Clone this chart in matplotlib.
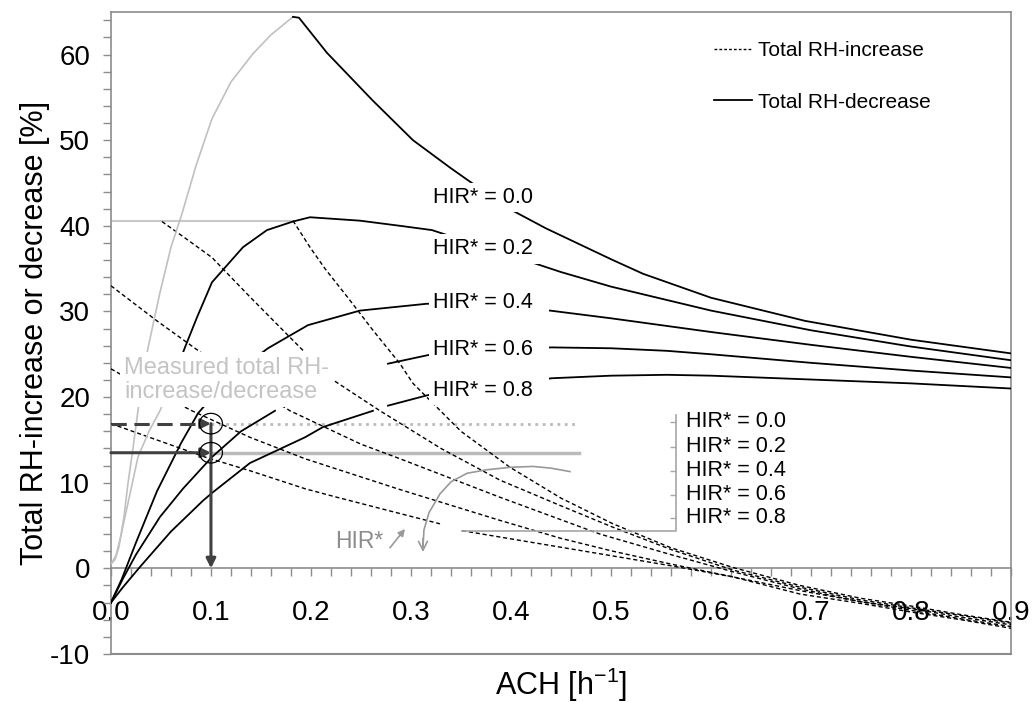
import matplotlib
matplotlib.use('Agg')
import matplotlib.pyplot as plt
from matplotlib.patches import Ellipse
from matplotlib.lines import Line2D

plt.rcParams['font.family'] = ['Liberation Sans', 'DejaVu Sans']
plt.rcParams['mathtext.default'] = 'regular'
plt.rcParams['axes.unicode_minus'] = False

nan = float('nan')

# --- total RH-decrease (solid) ---
dec00_gray_x = [0, 0.004, 0.008, 0.013, 0.017, 0.022, 0.027, 0.037, 0.049, 0.06, 0.071, 0.085, 0.101, 0.12, 0.142, 0.16, 0.182]
dec00_gray_y = [0.5, 1.0, 2.5, 6.0, 9.9, 14.0, 18.4, 25.7, 32.2, 37.5, 41.4, 47.0, 52.5, 56.8, 60.1, 62.3, 64.4]
dec00_x = [0.182, 0.188, 0.216, 0.262, 0.302, 0.339, 0.356, 0.398, 0.435, 0.5, 0.532, 0.6, 0.694, 0.8, 0.9]
dec00_y = [64.4, 64.3, 60.2, 54.6, 50.0, 46.8, 45.4, 42.0, 39.7, 36.1, 34.4, 31.6, 28.9, 26.7, 25.1]

dec02_gray_x = [0, 0.005, 0.01, 0.014, 0.02, 0.027, 0.038, 0.049, 0.06]
dec02_gray_y = [0.5, 1.5, 3.8, 6.0, 9.2, 13.0, 16.0, 18.4, 21.5]
dec02_x = [0.06, 0.074, 0.086, 0.101, 0.132, 0.156, 0.182, 0.199, 0.249, 0.289, 0.321, 0.36, 0.406, 0.45, 0.5, 0.6, 0.7, 0.8, 0.9]
dec02_y = [21.5, 25.8, 29.3, 33.4, 37.5, 39.5, 40.5, 41.0, 40.6, 40.0, 39.5, 38.0, 36.3, 34.6, 32.9, 30.1, 27.8, 25.9, 24.3]

dec04_x = [0, 0.011, 0.025, 0.046, 0.07, 0.087, 0.12, 0.157, 0.197, 0.249, 0.316, 0.38, 0.439, 0.5, 0.6, 0.7, 0.8, 0.9]
dec04_y = [-4.0, -1.2, 3.0, 9.0, 14.6, 18.1, 22.5, 25.7, 28.4, 30.1, 30.9, 30.7, 30.1, 29.2, 27.6, 26.1, 24.7, 23.4]

dec06_x = [0, 0.012, 0.025, 0.049, 0.072, 0.101, 0.13, 0.164, 0.2, 0.277, 0.317, 0.38, 0.441, 0.5, 0.556, 0.6, 0.7, 0.8, 0.9]
dec06_y = [-4.0, -1.2, 1.6, 6.0, 9.3, 13.0, 16.0, 18.4, nan, 23.9, 24.9, 25.6, 25.8, 25.7, 25.4, 25.0, 24.0, 23.1, 22.3]

dec08_x = [0, 0.012, 0.03, 0.06, 0.092, 0.101, 0.139, 0.194, 0.212, 0.262, 0.27, 0.277, 0.316, 0.38, 0.441, 0.5, 0.556, 0.6, 0.689, 0.8, 0.9]
dec08_y = [-4.0, -2.2, 0.3, 4.3, 7.9, 8.8, 12.3, 15.3, 16.5, 18.4, nan, 19.0, 20.2, 21.4, 22.2, 22.5, 22.6, 22.5, 22.1, 21.6, 21.0]

# --- total RH-increase (dashed) ---
inc00_x = [0.182, 0.199, 0.214, 0.237, 0.262, 0.289, 0.302, 0.35, 0.399, 0.45, 0.502, 0.56, 0.622, 0.689, 0.75, 0.8, 0.85, 0.9]
inc00_y = [40.6, 37.5, 35.0, 31.6, 27.8, 23.9, 21.6, 16.0, 11.8, 8.2, 5.2, 2.4, 0.1, -2.0, -3.5, -4.4, -5.4, -6.3]
inc02_x = [0.051, 0.075, 0.101, 0.139, 0.189, 0.222, 0.269, 0.33, 0.389, 0.45, 0.502, 0.56, 0.622, 0.689, 0.75, 0.8, 0.85, 0.9]
inc02_y = [40.5, 38.5, 36.3, 31.7, 25.8, 22.0, 18.4, 14.0, 10.3, 7.3, 4.8, 2.2, -0.2, -2.2, -3.7, -4.6, -5.5, -6.4]
inc04_x = [0, 0.046, 0.084, 0.13, 0.179, 0.25, 0.289, 0.389, 0.489, 0.56, 0.622, 0.689, 0.75, 0.8, 0.85, 0.9]
inc04_y = [33.0, 28.9, 25.7, 22.0, 18.4, 14.5, 12.8, 8.3, 4.0, 1.6, -0.4, -2.4, -3.9, -4.7, -5.7, -6.6]
inc06_x = [0, 0.009, 0.081, 0.139, 0.194, 0.289, 0.389, 0.45, 0.502, 0.56, 0.622, 0.689, 0.75, 0.8, 0.85, 0.9]
inc06_y = [23.3, 22.7, 18.4, 15.3, 12.8, 9.2, 5.6, 3.5, 2.0, 0.5, -1.0, -2.6, -3.9, -4.9, -5.9, -6.8]
inc08_x = [0, 0.094, 0.139, 0.194, 0.226, 0.289, 0.329, 0.34, 0.351, 0.489, 0.56, 0.622, 0.689, 0.75, 0.8, 0.85, 0.9]
inc08_y = [16.9, 13.0, 11.4, 9.3, 8.3, 6.4, 5.2, nan, 4.4, 1.7, 0.3, -1.0, -3.0, -4.1, -5.1, -6.0, -7.0]

hir_labels = ['HIR* = 0.0', 'HIR* = 0.2', 'HIR* = 0.4', 'HIR* = 0.6', 'HIR* = 0.8']
curve_label_y = [43.3, 37.3, 31.1, 25.5, 20.8]
bracket_tick_y = [17.1, 14.2, 11.4, 8.6, 5.9]

measured_inc = 16.9
measured_dec = 13.5
measured_ach = 0.1
measured_line_end = 0.468

# curved "HIR*" arrow path
hir_arrow_x = [0.459, 0.44, 0.422, 0.399, 0.375, 0.356, 0.34, 0.329, 0.318, 0.313, 0.312]
hir_arrow_y = [11.3, 11.7, 11.9, 11.8, 11.5, 11.1, 10.1, 8.7, 6.5, 4.5, 2.6]

spine_c = '#8c8c8c'
light = '#c0c0c0'
dark = '#404040'

fig = plt.figure(figsize=(10.34, 7.02), dpi=100)
ax = fig.add_axes([0.1073, 0.0684, 0.8705, 0.9149])
ax.set_xlim(0, 0.9)
ax.set_ylim(-10, 65)

dash = (0, (3, 2))
for xs, ys in [(inc00_x, inc00_y), (inc02_x, inc02_y), (inc04_x, inc04_y),
               (inc06_x, inc06_y), (inc08_x, inc08_y)]:
    ax.plot(xs, ys, color='black', lw=1.0, linestyle=dash, zorder=3)

ax.plot(dec00_gray_x, dec00_gray_y, color=light, lw=1.2, zorder=3)
ax.plot(dec02_gray_x, dec02_gray_y, color=light, lw=1.2, zorder=3)
for xs, ys in [(dec00_x, dec00_y), (dec02_x, dec02_y), (dec04_x, dec04_y),
               (dec06_x, dec06_y), (dec08_x, dec08_y)]:
    ax.plot(xs, ys, color='black', lw=1.3, zorder=3)

# grey horizontal at the start level of the increase curves
ax.plot([0, dec00_gray_x[-1]], [inc00_y[0], inc00_y[0]], color='#c8c8c8', lw=1.5, zorder=2)

# measured lines
ax.plot([measured_ach, measured_line_end], [measured_inc, measured_inc], color='#bbbbbb', lw=2, linestyle=':', zorder=2)
ax.plot([measured_ach, measured_line_end], [measured_dec, measured_dec], color='#bbbbbb', lw=2.5, zorder=2)
ax.plot([0, measured_ach - 0.008], [measured_inc, measured_inc], color=dark, lw=2.2, linestyle=(0, (5, 2.5)), zorder=4)
arrow_kw = dict(arrowstyle='-|>', color=dark, lw=2.2, mutation_scale=14, shrinkA=0, shrinkB=0)
ax.annotate('', xy=(measured_ach, measured_inc), xytext=(measured_ach - 0.01, measured_inc), arrowprops=arrow_kw, zorder=4)
ax.annotate('', xy=(measured_ach, measured_dec), xytext=(0, measured_dec), arrowprops=arrow_kw, zorder=4)
ax.annotate('', xy=(measured_ach, 0), xytext=(measured_ach, measured_inc), arrowprops=arrow_kw, zorder=4)
for yv in [measured_inc, measured_dec]:
    ax.add_patch(Ellipse((measured_ach, yv), 0.023, 2.4, fill=False, edgecolor='black', lw=0.9, zorder=5))

# curve labels
for lab, yv in zip(hir_labels, curve_label_y):
    ax.text(0.322, yv, lab + '  ', fontsize=15.5, ha='left', va='center', zorder=6,
            bbox=dict(facecolor='white', edgecolor='none', pad=3))

ax.text(0.013, 22.0, 'Measured total RH-\nincrease/decrease', fontsize=17, color='#c4c4c4',
        ha='left', va='center', linespacing=1.15, zorder=6,
        bbox=dict(facecolor='white', edgecolor='none', pad=3))

# bracket with HIR* labels
bx = 0.565
ax.plot([inc08_x[8], bx, bx], [inc08_y[8], inc08_y[8], 17.9], color='#a6a6a6', lw=1.2, zorder=3)
ax.plot([bx] * len(bracket_tick_y), bracket_tick_y, linestyle='none', marker=0, markersize=4,
        color='#a6a6a6', zorder=3)
for lab, yv in zip(hir_labels, bracket_tick_y):
    ax.text(0.5745, yv, lab, fontsize=15.5, ha='left', va='center', zorder=6)

# HIR* annotation
ax.plot(hir_arrow_x, hir_arrow_y, color='#999999', lw=1.2, zorder=4)
ax.annotate('', xy=(hir_arrow_x[-1], 1.9), xytext=(hir_arrow_x[-1], 3.5),
            arrowprops=dict(arrowstyle='->', color='#999999', lw=1.2, mutation_scale=16, shrinkA=0, shrinkB=0))
ax.text(0.224, 3.1, 'HIR*', fontsize=16.5, color='#8c8c8c', ha='left', va='center', zorder=6)
ax.annotate('', xy=(0.294, 4.6), xytext=(0.279, 2.4),
            arrowprops=dict(arrowstyle='-|>', color='#999999', lw=1.2, mutation_scale=10, shrinkA=0, shrinkB=0))

# axes styling
for s in ['left', 'right', 'top', 'bottom']:
    ax.spines[s].set_color(spine_c)
    ax.spines[s].set_linewidth(1.2)
ax.spines['bottom'].set_position(('data', 0))
ax.axhline(-10, color=spine_c, lw=1.5, clip_on=False, zorder=1)

ax.set_xticks([i / 10 for i in range(10)])
ax.set_xticklabels(['%.1f' % (i / 10) for i in range(10)])
ax.set_xticks([i / 50 for i in range(46)], minor=True)
ax.set_yticks(range(-10, 61, 10))
ax.set_yticks(range(-10, 65, 2), minor=True)
ax.tick_params(which='both', direction='out', length=6, width=1.0, color=spine_c, labelsize=20)
ax.tick_params(axis='x', which='major', pad=17)
ax.tick_params(axis='y', which='major', pad=9)

ax.set_xlabel('ACH [h$^{-1}$]', fontsize=22)
ax.set_ylabel('Total RH-increase or decrease [%]', fontsize=22)
ax.xaxis.set_label_coords(0.5, -0.018)
ax.yaxis.set_label_coords(-0.068, 0.5)

handles = [Line2D([], [], color='black', lw=1.0, linestyle=(0, (2, 1.5))),
           Line2D([], [], color='black', lw=1.3)]
fig.legend(handles, ['Total RH-increase', 'Total RH-decrease'], loc='upper left',
           bbox_to_anchor=(0.691, 0.941), frameon=False, fontsize=15, handlelength=1.8,
           handletextpad=0.3, labelspacing=1.55, borderpad=0, borderaxespad=0)

fig.savefig('out.png', dpi=100)
